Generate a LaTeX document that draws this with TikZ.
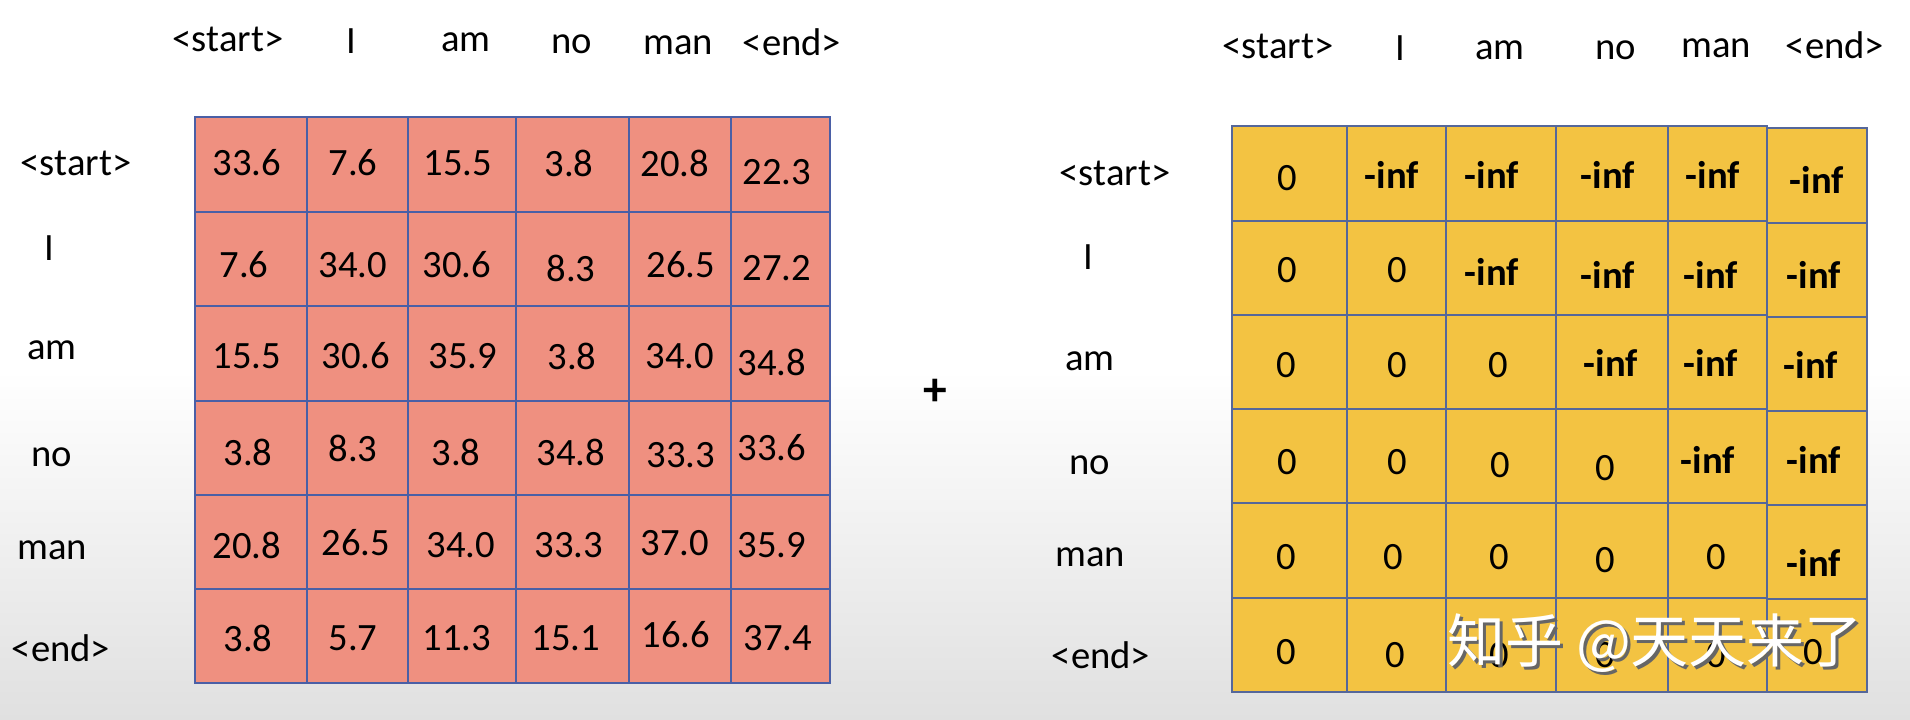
\documentclass[tikz,border=0pt]{standalone}
\usepackage{fontspec}
\setmainfont{Carlito}
\newfontfamily\cjkfont{Noto Sans CJK SC}
\definecolor{salmon}{HTML}{EF9080}
\definecolor{mustard}{HTML}{F3C342}
\definecolor{gridblue}{HTML}{4A5FA6}
\definecolor{gridslate}{HTML}{55679A}
\definecolor{floorgrey}{HTML}{E0E0E0}
\tikzset{
  sgrid/.style={draw=gridblue, line width=1.4pt},
  mgrid/.style={draw=gridslate, line width=1.4pt},
  ninf/.style={font=\fontsize{22}{26}\selectfont\bfseries}
}
\begin{document}
\begin{tikzpicture}[x=0.02cm, y=-0.02cm, font=\fontsize{22}{26}\selectfont]
        \useasboundingbox (0,0) rectangle (1910,720);
        \fill[white] (0,0) rectangle (1910,370);
        \shade[top color=white, bottom color=floorgrey] (0,370) rectangle (1910,720);

        % scores
        \node (scol1) at (228,39) {<start>};
        \node (scol2) at (351,41) {I};
        \node (scol3) at (466,42) {am};
        \node (scol4) at (572,44) {no};
        \node (scol5) at (678,45) {man};
        \node (scol6) at (792,42) {<end>};

        \node (srow1) at (76,163) {<start>};
        \node (srow2) at (49,248) {I};
        \node (srow3) at (52,350) {am};
        \node (srow4) at (52,457) {no};
        \node (srow5) at (52,550) {man};
        \node (srow6) at (61,648) {<end>};

        \fill[salmon] (195,117) rectangle (830,683);
        \draw[sgrid] (195,117) rectangle (830,683);
        \draw[sgrid] (307,117) -- (307,683) (408,117) -- (408,683) (516,117) -- (516,683) (629,117) -- (629,683) (731,117) -- (731,683);
        \draw[sgrid] (195,212) -- (830,212) (195,306) -- (830,306) (195,401) -- (830,401) (195,495) -- (830,495) (195,589) -- (830,589);

        \node (s11) at (247,163) {33.6};
        \node (s12) at (353,163) {7.6};
        \node (s13) at (458,163) {15.5};
        \node (s14) at (569,163) {3.8};
        \node (s15) at (675,163) {20.8};
        \node (s16) at (777,172) {22.3};

        \node (s21) at (244,265) {7.6};
        \node (s22) at (353,265) {34.0};
        \node (s23) at (457,265) {30.6};
        \node (s24) at (571,268) {8.3};
        \node (s25) at (681,265) {26.5};
        \node (s26) at (777,268) {27.2};

        \node (s31) at (247,356) {15.5};
        \node (s32) at (356,356) {30.6};
        \node (s33) at (463,356) {35.9};
        \node (s34) at (572,356) {3.8};
        \node (s35) at (680,356) {34.0};
        \node (s36) at (772,362) {34.8};

        \node (s41) at (248,452) {3.8};
        \node (s42) at (353,448) {8.3};
        \node (s43) at (456,452) {3.8};
        \node (s44) at (571,452) {34.8};
        \node (s45) at (681,455) {33.3};
        \node (s46) at (772,448) {33.6};

        \node (s51) at (247,545) {20.8};
        \node (s52) at (356,543) {26.5};
        \node (s53) at (461,545) {34.0};
        \node (s54) at (569,545) {33.3};
        \node (s55) at (675,543) {37.0};
        \node (s56) at (772,545) {35.9};

        \node (s61) at (248,638) {3.8};
        \node (s62) at (353,638) {5.7};
        \node (s63) at (457,638) {11.3};
        \node (s64) at (566,638) {15.1};
        \node (s65) at (676,635) {16.6};
        \node (s66) at (778,638) {37.4};

        \node[font=\fontsize{27}{30}\selectfont\bfseries] (plus) at (935,392) {+};

        % mask
        \node (mcol1) at (1278,46) {<start>};
        \node (mcol2) at (1400,48) {I};
        \node (mcol3) at (1500,50) {am};
        \node (mcol4) at (1616,50) {no};
        \node (mcol5) at (1716,48) {man};
        \node (mcol6) at (1835,45) {<end>};

        \node (mrow1) at (1115,173) {<start>};
        \node (mrow2) at (1088,257) {I};
        \node (mrow3) at (1090,361) {am};
        \node (mrow4) at (1090,465) {no};
        \node (mrow5) at (1090,557) {man};
        \node (mrow6) at (1101,655) {<end>};

        \fill[mustard] (1232,126) rectangle (1767,692);
        \fill[mustard] (1767,128) rectangle (1867,692);
        \draw[mgrid] (1232,126) rectangle (1767,692);
        \draw[mgrid] (1767,128) rectangle (1867,692);
        \draw[mgrid] (1347,126) -- (1347,692) (1446,126) -- (1446,692) (1556,126) -- (1556,692) (1668,126) -- (1668,692);
        \draw[mgrid] (1232,221) -- (1767,221) (1232,315) -- (1767,315) (1232,409) -- (1767,409) (1232,503) -- (1767,503) (1232,598) -- (1767,598);
        \draw[mgrid] (1767,223) -- (1867,223) (1767,317) -- (1867,317) (1767,411) -- (1867,411) (1767,505) -- (1867,505) (1767,599) -- (1867,599);

        \node (m11) at (1287,178) {0};
        \node[ninf] (m12) at (1392,175) {-inf};
        \node[ninf] (m13) at (1492,175) {-inf};
        \node[ninf] (m14) at (1608,175) {-inf};
        \node[ninf] (m15) at (1713,175) {-inf};
        \node[ninf] (m16) at (1817,180) {-inf};

        \node (m21) at (1287,270) {0};
        \node (m22) at (1397,270) {0};
        \node[ninf] (m23) at (1492,272) {-inf};
        \node[ninf] (m24) at (1608,275) {-inf};
        \node[ninf] (m25) at (1711,275) {-inf};
        \node[ninf] (m26) at (1814,275) {-inf};

        \node (m31) at (1286,365) {0};
        \node (m32) at (1397,365) {0};
        \node (m33) at (1498,365) {0};
        \node[ninf] (m34) at (1611,363) {-inf};
        \node[ninf] (m35) at (1711,363) {-inf};
        \node[ninf] (m36) at (1811,365) {-inf};

        \node (m41) at (1287,462) {0};
        \node (m42) at (1397,462) {0};
        \node (m43) at (1500,465) {0};
        \node (m44) at (1605,468) {0};
        \node[ninf] (m45) at (1708,460) {-inf};
        \node[ninf] (m46) at (1814,460) {-inf};

        \node (m51) at (1286,557) {0};
        \node (m52) at (1393,557) {0};
        \node (m53) at (1499,557) {0};
        \node (m54) at (1605,560) {0};
        \node (m55) at (1716,557) {0};
        \node[ninf] (m56) at (1814,563) {-inf};

        \node (m61) at (1286,652) {0};
        \node (m62) at (1395,655) {0};
        \node (m63) at (1499,655) {0};
        \node (m64) at (1605,655) {0};
        \node (m65) at (1716,655) {0};
        \node (m66) at (1813,652) {0};

        \node[text=black!60, font=\cjkfont\fontsize{33}{36}\selectfont] (markshade) at (1658,646) {知乎 @天天来了};
        \node[text=white, font=\cjkfont\fontsize{33}{36}\selectfont] (mark) at (1655,643) {知乎 @天天来了};

    \end{tikzpicture}
\end{document}
